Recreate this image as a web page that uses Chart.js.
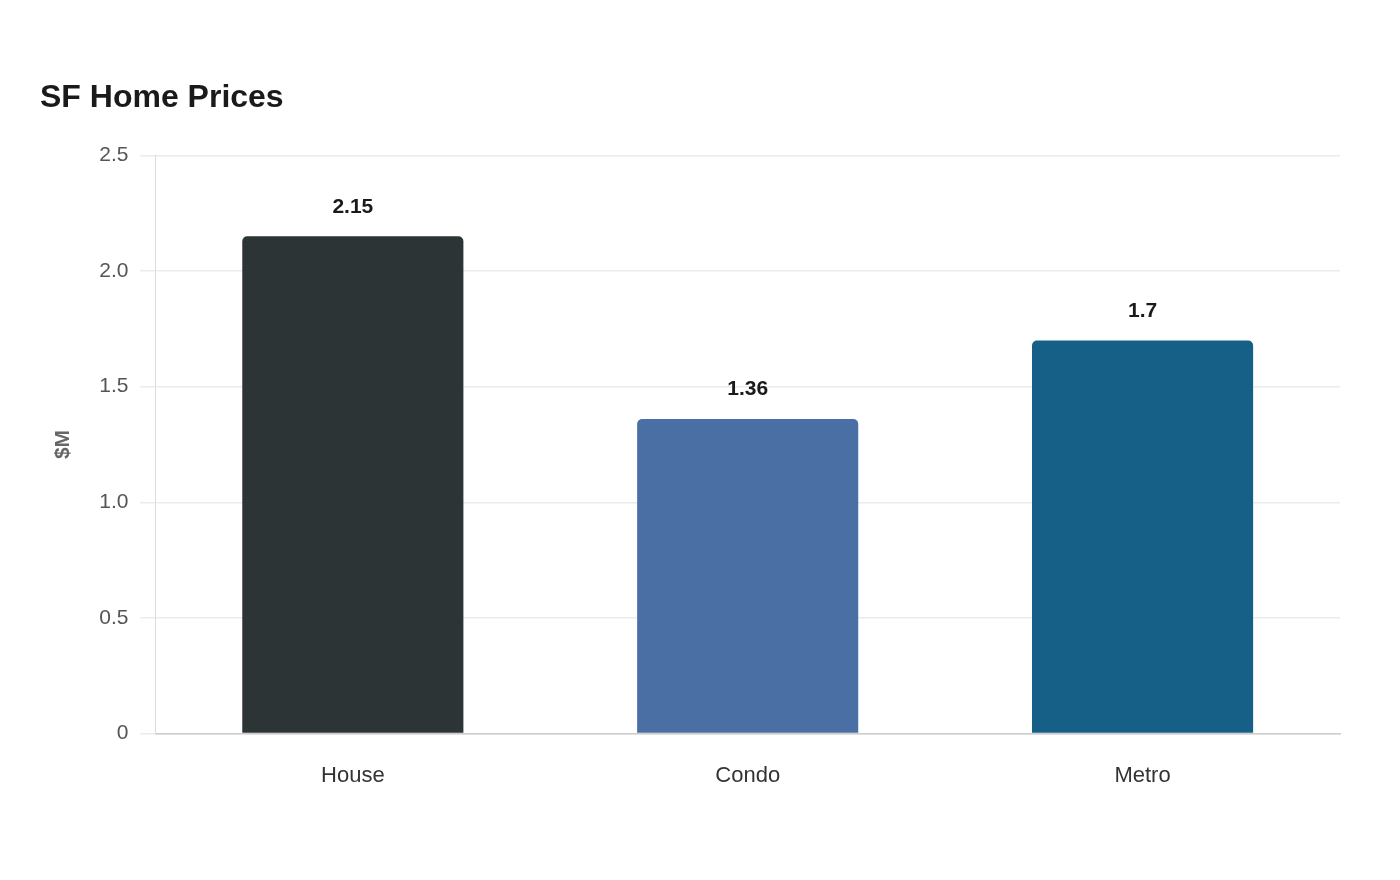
<!DOCTYPE html>
<html>
<head>
<meta charset="utf-8">
<title>SF Home Prices</title>
<script src="https://cdn.jsdelivr.net/npm/chart.js@4/dist/chart.umd.min.js"></script>
<style>
	html, body { margin: 0; padding: 0; background: #fff; }
	#wrap { width: 1400px; height: 880px; position: relative; }
</style>
</head>
<body>
<div id="wrap"><canvas id="chart"></canvas></div>
<script>
// data
var categories = ['House', 'Condo', 'Metro'];
var prices = [2.15, 1.36, 1.7];
var barColors = ['#2d3436', '#4a6fa5', '#166088'];
var yTicks = [0, 0.5, 1.0, 1.5, 2.0, 2.5];

// draws the value above each bar
var valueLabels = {
	id: 'valueLabels',
	afterDatasetsDraw: function(chart) {
		var ctx = chart.ctx;
		var meta = chart.getDatasetMeta(0);
		ctx.save();
		ctx.font = 'bold 21px "Liberation Sans", Arial, sans-serif';
		ctx.fillStyle = '#1a1a1a';
		ctx.textAlign = 'center';
		ctx.textBaseline = 'bottom';
		meta.data.forEach(function(bar, i) {
			ctx.fillText(String(prices[i]), bar.x, bar.y - 19);
		});
		ctx.restore();
	}
};

Chart.defaults.font.family = '"Liberation Sans", Arial, sans-serif';

var chart = new Chart(document.getElementById('chart'), {
	type: 'bar',
	data: {
		labels: categories,
		datasets: [{
			data: prices,
			backgroundColor: barColors,
			borderRadius: 5,
			borderSkipped: 'start',
			categoryPercentage: 0.8,
			barPercentage: 0.7
		}]
	},
	options: {
		responsive: true,
		maintainAspectRatio: false,
		animation: false,
		layout: { padding: { left: 40, right: 60, top: 79, bottom: 62 } },
		plugins: {
			legend: { display: false },
			tooltip: { enabled: false },
			title: {
				display: true,
				text: 'SF Home Prices',
				align: 'start',
				color: '#1a1a1a',
				font: { size: 32, weight: 'bold' },
				padding: { top: 0, bottom: 38 }
			}
		},
		scales: {
			x: {
				grid: { display: false, drawTicks: false },
				border: { color: '#cccccc', width: 1.5 },
				ticks: { color: '#333333', font: { size: 22 }, padding: 29 }
			},
			y: {
				min: 0,
				max: 2.5,
				afterBuildTicks: function(scale) {
					scale.ticks = yTicks.map(function(v) { return { value: v }; });
				},
				grid: { color: '#ebebeb', tickLength: 15, lineWidth: 1.5 },
				border: { color: '#dddddd' },
				title: {
					display: true,
					text: '$M',
					color: '#666666',
					font: { size: 21, weight: 'bold' },
					padding: { top: 11, bottom: 11 }
				},
				ticks: {
					color: '#555555',
					font: { size: 21 },
					padding: 12,
					callback: function(v) { return v === 0 ? '0' : v.toFixed(1); }
				}
			}
		}
	},
	plugins: [valueLabels]
});
</script>
</body>
</html>
